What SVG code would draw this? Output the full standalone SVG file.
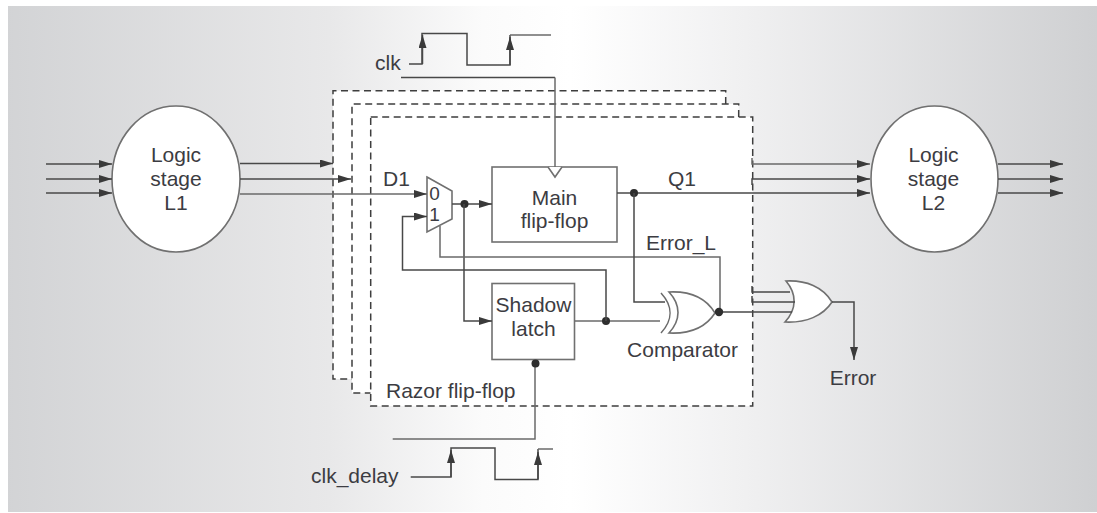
<svg xmlns="http://www.w3.org/2000/svg" width="1097" height="513" viewBox="0 0 1097 513">
<style>
text{font-family:"Liberation Sans",Arial,sans-serif;font-size:21px;fill:#3c3c42}
.m{text-anchor:middle}
.s{font-size:19px}
.w{fill:none;stroke:#484848;stroke-width:1.5}
.l{fill:none;stroke:#6a6a6a;stroke-width:1.5}
.d{fill:none;stroke:#3e3e3e;stroke-width:1.5;stroke-dasharray:7 4.5}
.f{fill:#fff;stroke:none}
.b{fill:#fff;stroke:#707070;stroke-width:1.6}
.dot{fill:#2e2e2e}
</style>
<defs>
<marker id="a" markerUnits="userSpaceOnUse" markerWidth="14" markerHeight="10" refX="13" refY="4" orient="auto"><path d="M0 0L13 4L0 8Z" fill="#3a3a3a"/></marker>
<linearGradient id="bg" x1="0" x2="1097" y1="0" y2="0" gradientUnits="userSpaceOnUse"><stop offset="0" stop-color="#d2d3d5"/><stop offset=".3" stop-color="#e8e8e9"/><stop offset=".44" stop-color="#fbfbfb"/><stop offset=".52" stop-color="#fff"/><stop offset=".68" stop-color="#f0f0f1"/><stop offset="1" stop-color="#cfd0d2"/></linearGradient>
</defs>
<rect width="1097" height="513" fill="#fff"/>
<rect id="panel" x="8" y="6" width="1089" height="506" fill="url(#bg)"/>
<g id="razor-back-2"><rect class="f" x="333" y="90.7" width="392.7" height="288.3"/><path class="d" d="M725.7 104V90.7H333V379H352"/></g>
<g id="razor-back-1"><rect class="f" x="352" y="104" width="386.7" height="289"/><path class="d" d="M738.7 117V104H352V393H370.7"/></g>
<g id="razor-front"><rect class="f" x="370.7" y="117" width="382" height="289"/><rect class="d" x="370.7" y="117" width="382" height="289"/><text x="386" y="398">Razor flip-flop</text></g>
<g id="logic-l1"><ellipse class="b" cx="176" cy="179" rx="64" ry="73"/><text class="m" x="176" y="162">Logic</text><text class="m" x="176" y="186">stage</text><text class="m" x="176" y="210">L1</text></g>
<g id="logic-l2"><ellipse class="b" cx="934.5" cy="179" rx="63.5" ry="73"/><text class="m" x="933.5" y="162">Logic</text><text class="m" x="933.5" y="186">stage</text><text class="m" x="933.5" y="210">L2</text></g>
<g id="main-flip-flop"><rect class="b" x="492" y="167" width="125" height="75"/><path class="b" d="M548 167L555 177L562 167" fill="none"/><text class="m" x="554.5" y="205">Main</text><text class="m" x="554.5" y="228">flip-flop</text></g>
<g id="shadow-latch"><rect class="b" x="492" y="283.5" width="82.5" height="76"/><text class="m" x="533.5" y="312">Shadow</text><text class="m" x="533.5" y="336">latch</text></g>
<g id="mux"><path class="b" d="M427 177L452 191V219L427 232Z"/><text class="m s" x="434.5" y="200">0</text><text class="m s" x="434.5" y="220.5">1</text></g>
<g id="comparator"><path class="b" d="M669 292C690 291 706 298 715 313C706 327 690 334 669 333C681 320 681 305 669 292Z"/><path class="l" fill="none" d="M661 293C673 306 673 320 661 333"/><text class="m" x="682.5" y="357">Comparator</text></g>
<g id="or-gate"><path class="b" d="M786 281C806 280 823 287 832 302C823 316 806 323 785 322C797 309 797 294 786 281Z"/><text class="m" x="853" y="385">Error</text></g>
<g id="connectors">
<path class="w" marker-end="url(#a)" d="M46 164H112"/><path class="w" marker-end="url(#a)" d="M46 179H112"/><path class="w" marker-end="url(#a)" d="M46 193H112"/>
<path class="w" marker-end="url(#a)" d="M240 163.5H333"/><path class="w" marker-end="url(#a)" d="M240 179H351"/>
<path class="l" marker-end="url(#a)" d="M240 194H427"/>
<path class="w" d="M409 64H422V33.5H467V65H510V35"/><path class="l" d="M510 35H551"/>
<path class="w" marker-end="url(#a)" d="M422.5 64V35"/><path class="w" marker-end="url(#a)" d="M510 65V37"/>
<path class="w" d="M401 77.5H555"/><path class="l" d="M555 77.5V167"/>
<path class="w" marker-end="url(#a)" d="M452 204H492"/><circle class="dot" cx="464.5" cy="204" r="4"/>
<path class="w" marker-end="url(#a)" d="M464 204V321H492"/>
<path class="l" d="M574.5 321H660"/><circle class="dot" cx="606" cy="321" r="4"/>
<path class="w" marker-end="url(#a)" d="M606 321V270H402.5V216.5H427"/>
<path class="l" d="M440 226V257H720V312"/>
<path class="w" marker-end="url(#a)" d="M617 193H870"/><circle class="dot" cx="634" cy="193" r="4"/>
<path class="w" d="M634 193V302H665"/>
<path class="l" marker-end="url(#a)" d="M752 158V164H870"/><path class="w" marker-end="url(#a)" d="M752 185V179H870"/>
<path class="w" d="M715 312H792"/><circle class="dot" cx="719" cy="312" r="4.2"/>
<path class="w" d="M752 286V292H790M752 296V302H795"/>
<path class="w" marker-end="url(#a)" d="M832 302H854V360"/>
<path class="l" d="M392.7 439H535V363"/><circle class="dot" cx="535.5" cy="363.5" r="4"/>
<path class="w" d="M410.7 477H451V448H495V479.5H538V449"/><path class="l" d="M538 449H553"/>
<path class="w" marker-end="url(#a)" d="M451 477V450"/><path class="w" marker-end="url(#a)" d="M538 479V452"/>
<path class="w" marker-end="url(#a)" d="M998 164H1063"/><path class="w" marker-end="url(#a)" d="M998 179H1063"/><path class="w" marker-end="url(#a)" d="M998 193H1063"/>
</g>
<g id="labels">
<text x="375" y="70">clk</text><text x="383" y="186">D1</text><text x="668" y="186">Q1</text><text x="646" y="250">Error_L</text><text x="311" y="483">clk_delay</text>
</g>
</svg>
